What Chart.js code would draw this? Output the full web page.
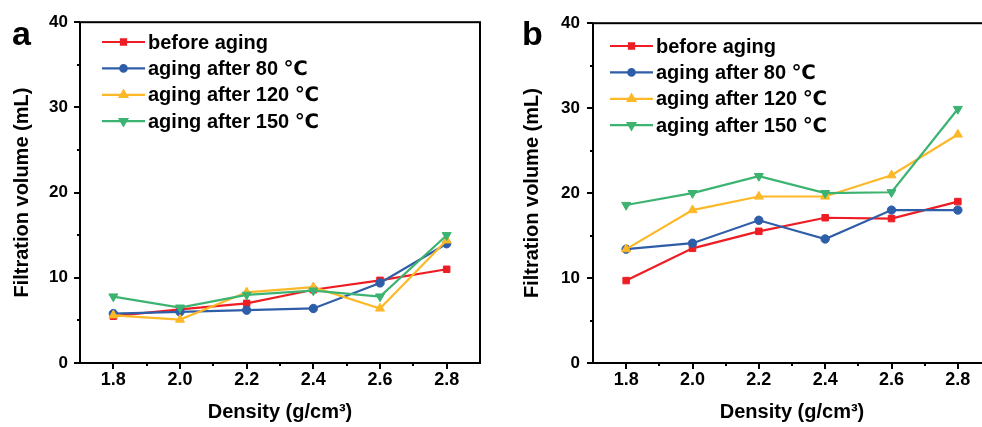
<!DOCTYPE html>
<html>
<head>
<meta charset="utf-8">
<script src="https://cdn.jsdelivr.net/npm/chart.js@4"></script>
<style>
  html, body { margin: 0; padding: 0; background: #fff; }
  body { width: 982px; height: 427px; position: relative; overflow: hidden; }
  canvas { position: absolute; top: 0; }
  #chartA { left: 0; }
  #chartB { left: 490px; }
</style>
</head>
<body>
<canvas id="chartA" width="490" height="427"></canvas>
<canvas id="chartB" width="520" height="427"></canvas>
<script>
// x values and tick values
const densities = [1.8, 2.0, 2.2, 2.4, 2.6, 2.8];
const xTicks = [1.8, 2.0, 2.2, 2.4, 2.6, 2.8];
const xMinor = [1.9, 2.1, 2.3, 2.5, 2.7];
const yTicks = [0, 10, 20, 30, 40];
const yMinor = [5, 15, 25, 35];

const seriesNames = ['before aging', 'aging after 80 \u2103', 'aging after 120 \u2103', 'aging after 150 \u2103'];

// panel a
const beforeA = [5.5, 6.3, 7.0, 8.6, 9.7, 11.0];
const aged80A = [5.8, 6.0, 6.2, 6.4, 9.4, 14.0];
const aged120A = [5.6, 5.1, 8.3, 8.9, 6.4, 14.4];
const aged150A = [7.8, 6.5, 8.0, 8.5, 7.8, 15.0];

// panel b
const beforeB = [9.7, 13.5, 15.5, 17.1, 17.0, 19.0];
const aged80B = [13.4, 14.1, 16.8, 14.6, 18.0, 18.0];
const aged120B = [13.4, 18.0, 19.6, 19.6, 22.1, 26.9];
const aged150B = [18.6, 20.0, 22.0, 20.0, 20.1, 29.9];

const colors = ['#ee1d24', '#2f5ea8', '#fcb827', '#3cb371'];
const styles = [
    { pointStyle: 'rect', radius: 4.6, rotation: 0 },
    { pointStyle: 'circle', radius: 4.2, rotation: 0 },
    { pointStyle: 'triangle', radius: 5.2, rotation: 0 },
    { pointStyle: 'triangle', radius: 5.2, rotation: 180 },
];

const FONT = '"Liberation Sans", Arial, "DejaVu Sans", sans-serif';

// box, tick marks, legend and panel letter
const decorPlugin = {
    id: 'decor',
    afterDraw(chart, args, opts) {
        const ctx = chart.ctx;
        const area = chart.chartArea;
        const xs = chart.scales.x;
        const ys = chart.scales.y;
        ctx.save();
        ctx.strokeStyle = '#000';
        ctx.lineWidth = 2;
        ctx.strokeRect(area.left, area.top, area.right - area.left, area.bottom - area.top);

        ctx.beginPath();
        yTicks.forEach(v => {
            const py = Math.round(ys.getPixelForValue(v));
            ctx.moveTo(area.left - 6, py);
            ctx.lineTo(area.left, py);
        });
        yMinor.forEach(v => {
            const py = Math.round(ys.getPixelForValue(v));
            ctx.moveTo(area.left - 3, py);
            ctx.lineTo(area.left, py);
        });
        xTicks.forEach(v => {
            const px = Math.round(xs.getPixelForValue(v));
            ctx.moveTo(px, area.bottom);
            ctx.lineTo(px, area.bottom + 6);
        });
        xMinor.forEach(v => {
            const px = Math.round(xs.getPixelForValue(v));
            ctx.moveTo(px, area.bottom);
            ctx.lineTo(px, area.bottom + 3);
        });
        ctx.stroke();

        // legend
        ctx.font = 'bold 20px ' + FONT;
        ctx.textBaseline = 'middle';
        ctx.textAlign = 'left';
        chart.data.datasets.forEach((ds, i) => {
            const y = opts.legendY + i * opts.legendGap;
            ctx.strokeStyle = ds.borderColor;
            ctx.lineWidth = 2.2;
            ctx.beginPath();
            ctx.moveTo(opts.legendX, y);
            ctx.lineTo(opts.legendX + 43, y);
            ctx.stroke();
            ctx.fillStyle = ds.borderColor;
            Chart.helpers.drawPoint(ctx, {
                pointStyle: styles[i].pointStyle,
                radius: styles[i].radius - 1,
                rotation: styles[i].rotation,
                borderWidth: 1
            }, opts.legendX + 21.5, y);
            ctx.fillStyle = '#000';
            ctx.fillText(ds.label, opts.legendX + 46, y + 1);
        });

        // panel letter
        ctx.font = 'bold 34px ' + FONT;
        ctx.textBaseline = 'alphabetic';
        ctx.fillStyle = '#000';
        ctx.fillText(opts.letter, opts.letterX, 45);
        ctx.restore();
    }
};

function makeChart(id, values, cfg) {
    const datasets = values.map((vals, i) => ({
        label: seriesNames[i],
        data: densities.map((d, j) => ({ x: d, y: vals[j] })),
        borderColor: colors[i],
        backgroundColor: colors[i],
        borderWidth: 2.2,
        pointStyle: styles[i].pointStyle,
        pointRadius: styles[i].radius,
        pointRotation: styles[i].rotation,
        pointBorderWidth: 1,
        tension: 0,
        order: 4 - i,
    }));

    return new Chart(document.getElementById(id), {
        type: 'line',
        data: { datasets: datasets },
        plugins: [decorPlugin],
        options: {
            responsive: false,
            animation: false,
            devicePixelRatio: 1,
            layout: { padding: { top: 20, right: cfg.padRight, left: 0, bottom: 0 } },
            plugins: {
                legend: { display: false },
                tooltip: { enabled: false },
                decor: cfg.decor,
            },
            scales: {
                x: {
                    type: 'linear',
                    min: 1.7,
                    max: 2.9,
                    afterBuildTicks: (s) => { s.ticks = xTicks.map(v => ({ value: v })); },
                    afterFit: (s) => { s.height = 64; },
                    grid: { display: false, drawTicks: false },
                    border: { display: false },
                    ticks: {
                        color: '#000',
                        padding: 6,
                        maxRotation: 0,
                        font: { family: FONT, size: 18, weight: 'bold' },
                        callback: (v) => Number(v).toFixed(1),
                    },
                    title: {
                        display: true,
                        text: 'Density (g/cm\u00b3)',
                        color: '#000',
                        padding: { top: 0, bottom: 3 },
                        font: { family: FONT, size: 20, weight: 'bold', lineHeight: 1.2 },
                    },
                },
                y: {
                    min: 0,
                    max: 40,
                    afterBuildTicks: (s) => { s.ticks = yTicks.map(v => ({ value: v })); },
                    afterFit: (s) => { s.width = cfg.yWidth; },
                    grid: { display: false, drawTicks: false },
                    border: { display: false },
                    ticks: {
                        color: '#000',
                        padding: cfg.tickPad,
                        font: { family: FONT, size: 17, weight: 'bold' },
                    },
                    title: {
                        display: true,
                        text: 'Filtration volume (mL)',
                        color: '#000',
                        padding: { top: cfg.titlePad, bottom: 0 },
                        font: { family: FONT, size: 20, weight: 'bold', lineHeight: 1.2 },
                    },
                },
            },
        },
    });
}

makeChart('chartA', [beforeA, aged80A, aged120A, aged150A], {
    padRight: 10, yWidth: 80, tickPad: 12, titlePad: 10,
    decor: { legendX: 102, legendY: 42, legendGap: 26.4, letter: 'a', letterX: 12 },
});

// panel b runs past the right edge of the page, as in the reference
makeChart('chartB', [beforeB, aged80B, aged120B, aged150B], {
    padRight: 19, yWidth: 103, tickPad: 13, titlePad: 30,
    decor: { legendX: 120, legendY: 46, legendGap: 26.4, letter: 'b', letterX: 32 },
});
</script>
</body>
</html>
